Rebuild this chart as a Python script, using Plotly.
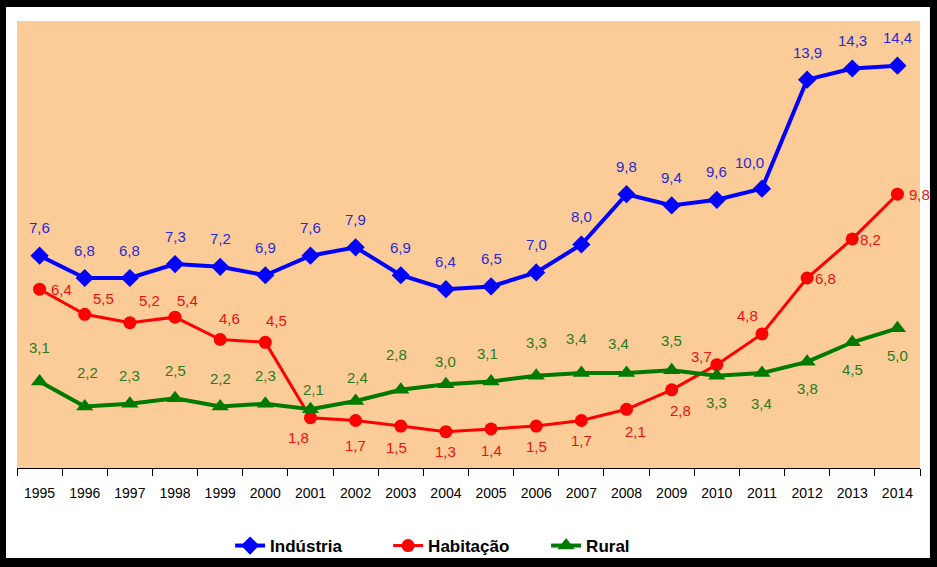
import plotly.graph_objects as go

years = [str(y) for y in range(1995, 2015)]
industria = [7.6, 6.8, 6.8, 7.3, 7.2, 6.9, 7.6, 7.9, 6.9, 6.4, 6.5, 7.0, 8.0, 9.8, 9.4, 9.6, 10.0, 13.9, 14.3, 14.4]
habitacao = [6.4, 5.5, 5.2, 5.4, 4.6, 4.5, 1.8, 1.7, 1.5, 1.3, 1.4, 1.5, 1.7, 2.1, 2.8, 3.7, 4.8, 6.8, 8.2, 9.8]
rural = [3.1, 2.2, 2.3, 2.5, 2.2, 2.3, 2.1, 2.4, 2.8, 3.0, 3.1, 3.3, 3.4, 3.4, 3.5, 3.3, 3.4, 3.8, 4.5, 5.0]

# label offsets in pixels (dx, dy), dy positive = up
off_ind = [(0, 28)] * 16 + [(-12, 26), (0, 27), (0, 28), (0, 28)]
off_hab = [(22, 0), (19, 16), (20, 22), (12, 17), (9, 21), (11, 22),
           (-12, -20), (0, -25), (-4, -21), (0, -20), (0, -22), (0, -20), (0, -20),
           (9, -22), (9, -21), (-15, 8), (-14, 18), (18, 0), (18, -1), (22, 0)]
off_rur = [(0, 34), (3, 34), (0, 28), (0, 28), (0, 28), (0, 28), (3, 20), (2, 23),
           (-4, 35), (0, 23), (-4, 28), (0, 33), (-5, 35), (-8, 30), (0, 30),
           (0, -27), (0, -30), (0, -27), (0, -27), (0, -27)]

series = [
    ("Indústria", industria, "#0000FF", "#2A2AD0", "diamond", 14, 4, off_ind),
    ("Habitação", habitacao, "#FF0000", "#F01010", "circle", 13, 3, off_hab),
    ("Rural", rural, "#007A00", "#2E7A1E", "triangle-up", 15, 4, off_rur),
]

fig = go.Figure()
annotations = []
for name, vals, col, tcol, sym, msize, lw, offs in series:
    fig.add_trace(go.Scatter(
        x=years, y=vals, name=name, mode="lines+markers",
        line=dict(color=col, width=lw),
        marker=dict(symbol=sym, size=msize, color=col),
    ))
    for i, (v, (dx, dy)) in enumerate(zip(vals, offs)):
        annotations.append(dict(
            x=i, y=v, xref="x", yref="y", text=f"{v:.1f}".replace(".", ","),
            showarrow=False, xshift=dx, yshift=dy,
            font=dict(family="Liberation Sans, Arial", size=15, color=tcol),
        ))

fig.update_layout(
    width=937, height=567,
    paper_bgcolor="black",
    plot_bgcolor="#FBCB98",
    margin=dict(l=17, r=17, t=21, b=99, autoexpand=False),
    annotations=annotations,
    shapes=[
        dict(type="rect", xref="paper", yref="paper",
             x0=-0.0122, x1=1.011, y0=-0.2013, y1=1.0313,
             fillcolor="white", line=dict(width=0), layer="below"),
        dict(type="rect", xref="paper", yref="paper",
             x0=0, x1=1, y0=0, y1=1,
             fillcolor="#FBCB98", line=dict(width=0), layer="below"),
    ],
    showlegend=True,
    legend=dict(orientation="h", x=0.236, xanchor="left", y=-0.1745, yanchor="middle",
                bgcolor="rgba(0,0,0,0)",
                font=dict(family="Liberation Sans, Arial", size=17, color="black", weight="bold"),
                itemwidth=30, entrywidth=113, entrywidthmode="pixels"),
)
fig.update_xaxes(
    type="category", tickson="boundaries", ticks="outside", ticklen=7, tickcolor="black",
    showline=True, linecolor="black", linewidth=1, showgrid=False,
    ticklabelstandoff=12,
    tickfont=dict(family="Liberation Sans, Arial", size=14, color="black"),
    range=[-0.5, 19.5],
)
fig.update_yaxes(visible=False, range=[0, 16], showgrid=False, zeroline=False)

fig.write_html("out.html", config={"displayModeBar": False},
               post_script="document.body.style.margin='0';")
